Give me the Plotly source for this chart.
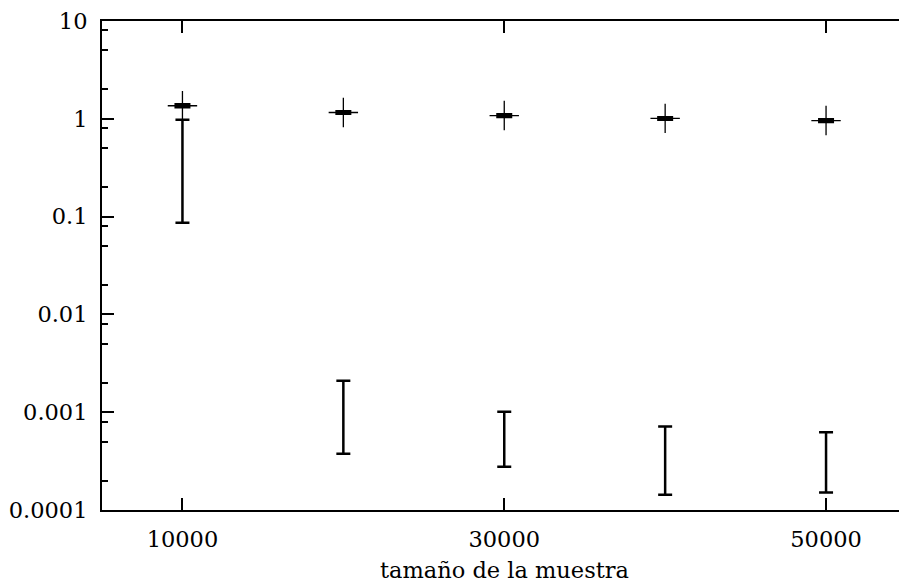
import plotly.graph_objects as go

# sample sizes
sizes = [10000, 20000, 30000, 40000, 50000]

# upper series: point values and small error
upper_vals = [1.36, 1.16, 1.08, 1.01, 0.96]
upper_err = [0.05, 0.035, 0.035, 0.03, 0.03]

# lower series: error interval bounds
lower_hi = [0.977, 0.0021, 0.00101, 0.000714, 0.000625]
lower_lo = [0.0865, 0.000376, 0.000277, 0.000143, 0.000151]

# axis ticks
x_tickvals = [10000, 30000, 50000]
x_ticktext = ["10000", "30000", "50000"]
y_tickvals = [0.0001, 0.001, 0.01, 0.1, 1, 10]
y_ticktext = ["0.0001", "0.001", "0.01", "0.1", "1", "10"]
y_minor = [m * 10.0 ** e for e in range(-4, 1) for m in (2, 5, 8)]
x_title = "tamaño de la muestra"

FONT = "DejaVu Serif"
FS = 22.5
fig = go.Figure()

fig.add_trace(go.Scatter(
    x=sizes, y=lower_hi, mode="markers",
    marker=dict(size=1, color="rgba(0,0,0,0)"),
    error_y=dict(type="data", symmetric=False,
                 array=[0] * len(sizes),
                 arrayminus=[h - l for h, l in zip(lower_hi, lower_lo)],
                 color="black", thickness=2.5, width=7),
    showlegend=False, hoverinfo="skip"))

fig.add_trace(go.Scatter(
    x=sizes, y=upper_vals, mode="markers",
    marker=dict(symbol="cross-thin", size=21, line=dict(width=1.3, color="black"), color="black"),
    error_y=dict(type="data", array=upper_err, color="black", thickness=2.5, width=8),
    showlegend=False, hoverinfo="skip"))

px_per = 0.0161
x_right = 10000 + (899 - 182) / px_per

fig.update_layout(
    width=899, height=585,
    margin=dict(l=102, r=0, t=21, b=75),
    paper_bgcolor="white", plot_bgcolor="white",
    font=dict(family=FONT, size=FS, color="black"),
    xaxis=dict(range=[5000, x_right], tickmode="array", tickvals=x_tickvals, ticktext=x_ticktext,
               showgrid=False, zeroline=False, showline=True, linecolor="black", linewidth=2,
               mirror="ticks", ticks="inside", ticklen=12, tickwidth=2, tickcolor="black",
               ticklabelstandoff=8),
    yaxis=dict(type="log", range=[-4, 1], tickmode="array", tickvals=y_tickvals, ticktext=y_ticktext,
               showgrid=False, zeroline=False, showline=True, linecolor="black", linewidth=2,
               ticks="inside", ticklen=12, tickwidth=2, tickcolor="black",
               ticklabelstandoff=8,
               minor=dict(tickmode="array", tickvals=y_minor, ticks="inside", ticklen=6,
                          tickwidth=2, tickcolor="black", showgrid=False)),
    yaxis2=dict(type="log", range=[-4, 1], overlaying="y", side="right", anchor="x",
                tickmode="array", tickvals=y_tickvals, showticklabels=False,
                showgrid=False, zeroline=False, showline=False,
                ticks="inside", ticklen=6, tickwidth=2, tickcolor="black"),
    annotations=[dict(text=x_title, x=10000 + (504 - 182) / px_per, xref="x",
                      y=-0.123, yref="paper",
                      xanchor="center", yanchor="middle", showarrow=False,
                      font=dict(family=FONT, size=FS, color="black"))],
)

fig.write_html("out.html")
